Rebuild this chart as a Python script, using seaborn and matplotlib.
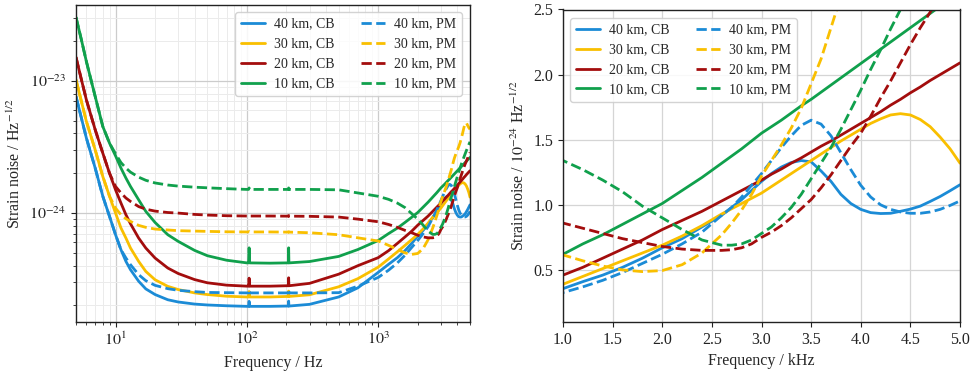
import numpy as np
import pandas as pd
import matplotlib
matplotlib.use("Agg")
import matplotlib.pyplot as plt
import seaborn as sns
from matplotlib.ticker import FixedLocator, NullFormatter, MultipleLocator, FormatStrFormatter

sns.set_theme(style="ticks")
plt.rcParams['font.family'] = ['Liberation Serif', 'DejaVu Serif']
plt.rcParams['mathtext.fontset'] = 'stix'

# ---------------- data (strain noise in units of 1e-24 / sqrt(Hz)) ----------------
freq_hz = [5, 5.5, 6, 7, 8, 9, 10, 11, 12, 13, 15, 17, 20, 25, 30, 40, 50, 70,
           100, 103, 104, 105, 150, 200, 207, 208, 209, 300, 500, 700, 1000,
           1200, 1400, 1600, 1800, 2000, 2200, 2400, 2600, 2700, 2800, 2900,
           3000, 3100, 3200, 3300, 3400, 3500, 3600, 3700, 3800, 3900, 4000,
           4100, 4200, 4300, 4400, 4500, 4600, 4700, 4800, 4900, 5000]

lengths = ["40 km", "30 km", "20 km", "10 km"]

cb_40 = [7.62, 5.22, 3.69, 2.19, 1.34, 0.944, 0.686, 0.528, 0.431, 0.373, 0.305, 0.267, 0.242,
         0.221, 0.2126, 0.205, 0.2018, 0.199, 0.197, 0.197, 0.215, 0.197, 0.197, 0.198, 0.198,
         0.216, 0.198, 0.204, 0.232, 0.272, 0.356,
         0.41, 0.46, 0.52, 0.59, 0.67, 0.74, 0.83, 0.92, 0.98, 1.04, 1.11, 1.18, 1.24, 1.29,
         1.325, 1.34, 1.33, 1.26, 1.18, 1.08, 1.01, 0.965, 0.94, 0.933, 0.935, 0.95, 0.967,
         0.99, 1.026, 1.064, 1.108, 1.154]
cb_30 = [10.2, 6.98, 4.93, 3.01, 1.89, 1.34, 1.00, 0.771, 0.647, 0.544, 0.431, 0.362, 0.313,
         0.279, 0.264, 0.249, 0.242, 0.235, 0.232, 0.232, 0.255, 0.232, 0.232, 0.234, 0.234,
         0.257, 0.234, 0.241, 0.277, 0.319, 0.39,
         0.45, 0.51, 0.57, 0.63, 0.69, 0.76, 0.84, 0.93, 0.97, 1.01, 1.05, 1.09, 1.14, 1.19,
         1.24, 1.29, 1.34, 1.39, 1.44, 1.49, 1.535, 1.58, 1.625, 1.66, 1.69, 1.70, 1.69,
         1.655, 1.60, 1.52, 1.43, 1.32]
cb_20 = [15.1, 10.2, 7.18, 4.27, 2.84, 2.00, 1.50, 1.19, 0.971, 0.830, 0.647, 0.544, 0.457,
         0.384, 0.349, 0.314, 0.297, 0.285, 0.280, 0.280, 0.322, 0.280, 0.280, 0.282, 0.282,
         0.324, 0.282, 0.294, 0.345, 0.40, 0.46,
         0.52, 0.59, 0.66, 0.73, 0.81, 0.88, 0.95, 1.03, 1.07, 1.11, 1.15, 1.19, 1.235, 1.275,
         1.32, 1.36, 1.405, 1.45, 1.49, 1.535, 1.58, 1.625, 1.67, 1.715, 1.765, 1.81, 1.86,
         1.905, 1.955, 2.0, 2.045, 2.09]
cb_10 = [30.3, 20.4, 14.0, 7.62, 4.52, 3.38, 2.71, 2.19, 1.84, 1.59, 1.26, 1.03, 0.849,
         0.686, 0.611, 0.522, 0.476, 0.44, 0.42, 0.42, 0.546, 0.42, 0.418, 0.42, 0.42,
         0.546, 0.42, 0.43, 0.47, 0.53, 0.62,
         0.70, 0.77, 0.85, 0.93, 1.01, 1.11, 1.21, 1.32, 1.375, 1.43, 1.49, 1.55, 1.60, 1.65,
         1.705, 1.76, 1.81, 1.865, 1.92, 1.975, 2.03, 2.085, 2.14, 2.195, 2.25, 2.305, 2.36,
         2.415, 2.47, 2.525, 2.58, 2.635]

pm_40 = [7.62, 5.22, 3.69, 2.19, 1.34, 0.944, 0.686, 0.528, 0.457, 0.407, 0.342, 0.308, 0.284,
         0.268, 0.2605, 0.2545, 0.251, 0.25, 0.249, 0.249, 0.262, 0.249, 0.249, 0.249, 0.249,
         0.262, 0.249, 0.249, 0.25, 0.28, 0.326,
         0.37, 0.42, 0.48, 0.55, 0.62, 0.70, 0.79, 0.92, 0.98, 1.06, 1.15, 1.24, 1.34, 1.44,
         1.53, 1.61, 1.65, 1.62, 1.53, 1.40, 1.27, 1.15, 1.06, 1.00, 0.965, 0.945, 0.935,
         0.935, 0.945, 0.965, 0.995, 1.03]
pm_30 = [10.2, 6.98, 4.93, 3.01, 1.89, 1.34, 1.09, 0.971, 0.906, 0.865, 0.807, 0.780, 0.757,
         0.745, 0.736, 0.731, 0.727, 0.722, 0.72, 0.72, 0.725, 0.72, 0.72, 0.718, 0.718,
         0.723, 0.718, 0.71, 0.686, 0.65, 0.615,
         0.57, 0.53, 0.50, 0.487, 0.495, 0.54, 0.63, 0.77, 0.86, 0.96, 1.08, 1.22, 1.34, 1.46,
         1.59, 1.74, 1.93, 2.12, 2.36, 2.60, 2.80, 2.98, 3.17, 3.40, 3.70, 4.05, 4.45, 4.78,
         4.80, 4.60, 4.42, 4.30]
pm_20 = [15.1, 10.2, 7.18, 4.27, 2.84, 2.00, 1.59, 1.42, 1.30, 1.225, 1.12, 1.07, 1.035,
         1.01, 1.0, 0.977, 0.966, 0.955, 0.95, 0.95, 0.96, 0.95, 0.95, 0.948, 0.948,
         0.958, 0.948, 0.945, 0.933, 0.90, 0.86,
         0.82, 0.78, 0.74, 0.71, 0.68, 0.66, 0.65, 0.65, 0.655, 0.67, 0.70, 0.75, 0.79, 0.84,
         0.90, 0.97, 1.04, 1.13, 1.23, 1.34, 1.45, 1.55, 1.68, 1.82, 1.95, 2.09, 2.23, 2.36,
         2.48, 2.61, 2.74, 2.87]
pm_10 = [30.3, 20.4, 14.0, 7.62, 4.52, 3.38, 2.81, 2.41, 2.19, 2.04, 1.87, 1.77, 1.69,
         1.63, 1.60, 1.57, 1.553, 1.53, 1.51, 1.51, 1.55, 1.51, 1.51, 1.51, 1.51,
         1.55, 1.51, 1.51, 1.50, 1.42, 1.34,
         1.27, 1.19, 1.10, 0.99, 0.90, 0.81, 0.73, 0.69, 0.69, 0.70, 0.73, 0.78, 0.83, 0.90,
         0.98, 1.08, 1.20, 1.32, 1.44, 1.58, 1.73, 1.88, 2.04, 2.19, 2.35, 2.50, 2.66, 2.82,
         2.98, 3.14, 3.30, 3.46]

left_xticks = [10, 100, 1000]
left_xticklabels = ["$10^{1}$", "$10^{2}$", "$10^{3}$"]
left_yticks = [1e-24, 1e-23]
left_yticklabels = ["$10^{-24}$", "$10^{-23}$"]

cb_series = {"40 km": cb_40, "30 km": cb_30, "20 km": cb_20, "10 km": cb_10}
pm_series = {"40 km": pm_40, "30 km": pm_30, "20 km": pm_20, "10 km": pm_10}
colors = {"40 km": "#1b8bd6", "30 km": "#f9bf00", "20 km": "#a30d0d", "10 km": "#10a04c"}

rows = []
for cfg, series in (("CB", cb_series), ("PM", pm_series)):
    for L in lengths:
        for f, v in zip(freq_hz, series[L]):
            rows.append({"freq_hz": f, "freq_khz": f / 1000.0, "val": v,
                         "strain": v * 1e-24, "length": L, "config": cfg})
df = pd.DataFrame(rows)

# ---------------- figure ----------------
W, H = 973, 372
fig = plt.figure(figsize=(W / 100, H / 100), dpi=100)
axL = fig.add_axes([76 / W, 1 - 322 / H, (470 - 76) / W, (322 - 5) / H])
axR = fig.add_axes([563 / W, 1 - 322 / H, (960 - 563) / W, (322 - 9.5) / H])

for ax, xcol, ycol in ((axL, "freq_hz", "strain"), (axR, "freq_khz", "val")):
    for cfg, ls in (("CB", "-"), ("PM", "--")):
        for L in lengths:
            sub = df[(df["length"] == L) & (df["config"] == cfg)]
            sns.lineplot(data=sub, x=xcol, y=ycol, ax=ax, color=colors[L],
                         linestyle=ls, linewidth=2.0, label=f"{L}, {cfg}",
                         errorbar=None, sort=False)

# minor tick positions for the log axes
minor_x = [m * 10 ** e for e in range(0, 4) for m in range(2, 10)]
minor_y = [m * 10.0 ** e for e in range(-25, -22) for m in range(2, 10)]

# left axis styling
axL.set_xscale("log")
axL.set_yscale("log")
axL.set_xlim(5, 5000)
axL.set_ylim(1.5e-25, 3.75e-23)
axL.xaxis.set_major_locator(FixedLocator(left_xticks))
axL.set_xticklabels(left_xticklabels)
axL.yaxis.set_major_locator(FixedLocator(left_yticks))
axL.set_yticklabels(left_yticklabels)
axL.xaxis.set_minor_locator(FixedLocator([v for v in minor_x if 5 <= v <= 5000]))
axL.yaxis.set_minor_locator(FixedLocator([v for v in minor_y if 1.5e-25 <= v <= 3.75e-23]))
axL.xaxis.set_minor_formatter(NullFormatter())
axL.yaxis.set_minor_formatter(NullFormatter())
axL.grid(True, which="major", color="#cccccc", linewidth=0.9)
axL.grid(True, which="minor", color="#ebebeb", linewidth=0.7)
axL.set_xlabel("Frequency / Hz", fontsize=11.5)
axL.set_ylabel("Strain noise / Hz$^{-1/2}$", fontsize=11.5)

# right axis styling
axR.set_xlim(1.0, 5.0)
axR.set_ylim(0.1, 2.5)
axR.xaxis.set_major_locator(MultipleLocator(0.5))
axR.yaxis.set_major_locator(FixedLocator([0.5, 1.0, 1.5, 2.0, 2.5]))
axR.xaxis.set_major_formatter(FormatStrFormatter("%.1f"))
axR.yaxis.set_major_formatter(FormatStrFormatter("%.1f"))
axR.grid(True, which="major", color="#d5d5d5", linewidth=0.9)
axR.set_xlabel("Frequency / kHz", fontsize=11.5)
axR.set_ylabel("Strain noise / $10^{-24}$ Hz$^{-1/2}$", fontsize=11.5)

for ax in (axL, axR):
    ax.set_axisbelow(True)
    ax.tick_params(axis="both", which="major", labelsize=11.5, direction="out",
                   length=3.5, width=0.8, colors="#222222")
    ax.tick_params(axis="both", which="minor", direction="out", length=2, width=0.6,
                   colors="#222222")
    for s in ax.spines.values():
        s.set_color("#222222")
        s.set_linewidth(1.0)

leg_kw = dict(ncol=2, fontsize=10, frameon=True, framealpha=0.85, edgecolor="#cccccc",
              fancybox=True, handlelength=1.75, handletextpad=0.65, columnspacing=1.9,
              borderpad=0.4, labelspacing=0.5, borderaxespad=0.0)
axL.legend(loc="upper right", bbox_to_anchor=(0.98, 0.978), **leg_kw)
axR.legend(loc="upper left", bbox_to_anchor=(0.018, 0.973), **leg_kw)

fig.savefig("out.png", dpi=100)
